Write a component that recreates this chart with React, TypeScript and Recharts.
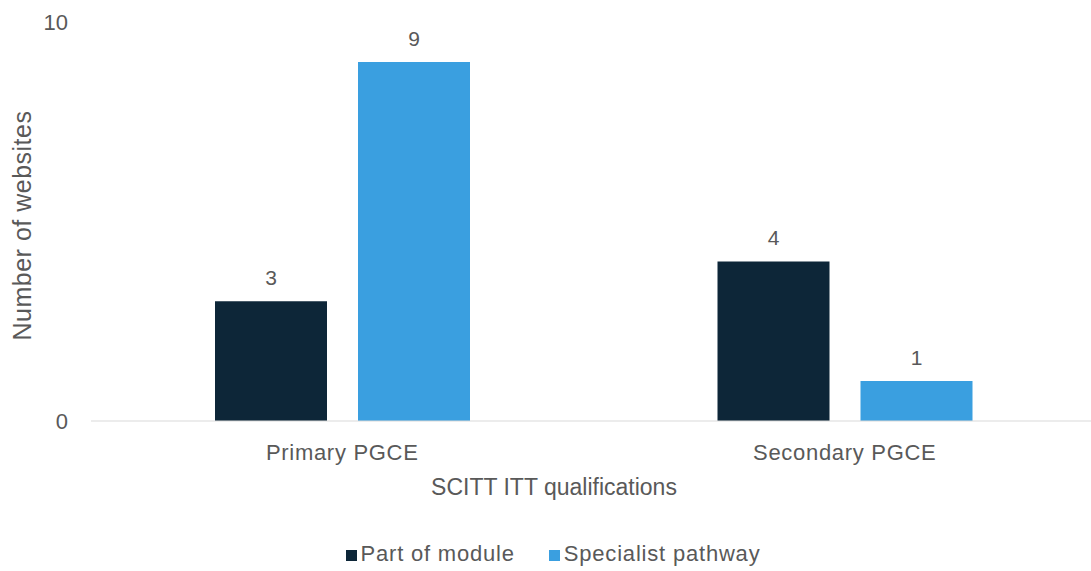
import { BarChart, Bar, XAxis, YAxis, Legend, LabelList } from 'recharts';

const categories = ['Primary PGCE', 'Secondary PGCE'];
const partOfModule = [3, 4];
const specialistPathway = [9, 1];
const yTicks = [0, 10];

const SERIES = [
  { key: 'module', name: 'Part of module', color: '#0d2638' },
  { key: 'specialist', name: 'Specialist pathway', color: '#3a9fe0' },
];

const data = categories.map((name, i) => ({
  name,
  module: partOfModule[i],
  specialist: specialistPathway[i],
}));

const FONT = '"Liberation Sans", Arial, sans-serif';
const TEXT = '#595959';

function LegendBox() {
  return (
    <div style={{ display: 'flex', justifyContent: 'center', alignItems: 'center', fontFamily: FONT, fontSize: 22, color: TEXT, letterSpacing: 0.8 }}>
      {SERIES.map((s, i) => (
        <div key={s.key} style={{ display: 'flex', alignItems: 'center', marginLeft: i ? 34 : 0 }}>
          <span style={{ width: 11, height: 11, background: s.color, display: 'inline-block', marginRight: 4, marginTop: 3 }} />
          <span>{s.name}</span>
        </div>
      ))}
    </div>
  );
}

export default function App() {
  return (
    <div style={{ position: 'absolute', left: 0, top: 0, width: 1091, height: 571, overflow: 'hidden', background: '#fff' }}>
      <BarChart width={1096} height={571} data={data} margin={{ top: 22, right: 0, left: 0, bottom: 0 }} barSize={112} barGap={31}>
        <XAxis
          dataKey="name"
          height={150}
          tickSize={0}
          tickMargin={23}
          axisLine={{ stroke: '#d9d9d9' }}
          tickLine={false}
          tick={{ fontSize: 22, fill: TEXT, fontFamily: FONT, letterSpacing: 0.7 }}
          label={{
            content: ({ viewBox }: any) => (
              <text x={554} y={viewBox.y + 74} textAnchor="middle" fontSize={23} fill={TEXT} fontFamily={FONT}>
                SCITT ITT qualifications
              </text>
            ),
          }}
        />
        <YAxis
          width={91}
          domain={[0, 10]}
          ticks={yTicks}
          axisLine={false}
          tickLine={false}
          tickSize={0}
          tickMargin={23}
          tick={{ fontSize: 22, fill: TEXT, fontFamily: FONT }}
          label={{
            content: ({ viewBox }: any) => {
              const cx = viewBox.x + 22;
              const cy = viewBox.y + viewBox.height / 2 + 4;
              return (
                <text x={cx} y={cy} transform={`rotate(-90 ${cx} ${cy})`} textAnchor="middle" dominantBaseline="central" fontSize={25} fill={TEXT} fontFamily={FONT} letterSpacing={0.5}>
                  Number of websites
                </text>
              );
            },
          }}
        />
        <Legend
          layout="horizontal"
          verticalAlign="middle"
          align="center"
          content={() => <LegendBox />}
          wrapperStyle={{ top: 541, left: 0, width: 1106 }}
        />
        {SERIES.map((s) => (
          <Bar key={s.key} dataKey={s.key} name={s.name} fill={s.color} isAnimationActive={false}>
            <LabelList dataKey={s.key} position="top" offset={16} fontSize={21} fill={TEXT} fontFamily={FONT} />
          </Bar>
        ))}
      </BarChart>
    </div>
  );
}
